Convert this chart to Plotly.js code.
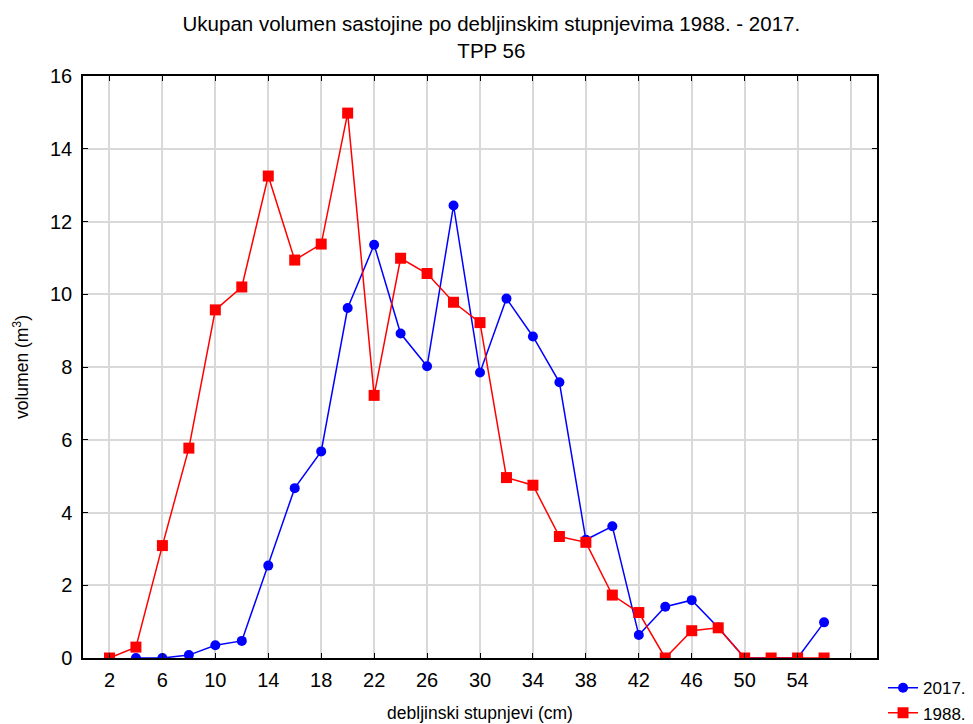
<!DOCTYPE html>
<html>
<head>
<meta charset="utf-8">
<script src="https://cdn.plot.ly/plotly-3.0.1.min.js"></script>
<style>html,body{margin:0;padding:0;background:#fff;}#chart{width:973px;height:724px;}</style>
</head>
<body>
<div id="chart"></div>
<script>
const x1988 = [2,4,6,8,10,12,14,16,18,20,22,24,26,28,30,32,34,36,38,40,42,44,46,48,50,52,54,56];
const v1988 = [0,0.3,3.09,5.77,9.57,10.2,13.25,10.94,11.38,14.98,7.22,10.99,10.57,9.78,9.22,4.96,4.75,3.34,3.18,1.73,1.25,0,0.75,0.83,0,0,0,0];
const x2017 = [4,6,8,10,12,14,16,18,20,22,24,26,28,30,32,34,36,38,40,42,44,46,48,50,52,54,56];
const v2017 = [0,0,0.08,0.35,0.47,2.54,4.67,5.68,9.62,11.36,8.92,8.02,12.44,7.85,9.88,8.84,7.58,3.25,3.62,0.63,1.41,1.59,0.84,0,0,0,0.98];
const xTicks = [2,6,10,14,18,22,26,30,34,38,42,46,50,54,58];
const xTickText = ['2','6','10','14','18','22','26','30','34','38','42','46','50','54',''];
const yTicks = [0,2,4,6,8,10,12,14,16];

const font = 'Liberation Sans, Arial, sans-serif';
const traces = [
  {x: x2017, y: v2017, name: '2017.', type: 'scatter', mode: 'lines+markers',
   line: {color: '#0000ff', width: 1.5}, marker: {symbol: 'circle', size: 10, color: '#0000ff'}},
  {x: x1988, y: v1988, name: '1988.', type: 'scatter', mode: 'lines+markers',
   line: {color: '#ff0000', width: 1.5}, marker: {symbol: 'square', size: 11, color: '#ff0000'}}
];
const layout = {
  width: 973, height: 724,
  margin: {l: 83, r: 96, t: 76, b: 66, autoexpand: false},
  paper_bgcolor: '#fff', plot_bgcolor: '#fff',
  font: {family: font, color: '#000'},
  title: {text: 'Ukupan volumen sastojine po debljinskim stupnjevima 1988. - 2017.<br>TPP 56',
          x: 0.505, xref: 'container', y: 0.957, yref: 'container', yanchor: 'top',
          font: {size: 20.5, family: font, color: '#000'}},
  xaxis: {range: [0, 60], tickvals: xTicks, ticktext: xTickText,
          showgrid: true, gridcolor: '#d9d9d9', gridwidth: 1.5,
          showline: true, linecolor: '#000', linewidth: 1.5, mirror: 'ticks',
          ticks: 'inside', ticklen: 5, tickcolor: '#000', zeroline: false,
          tickfont: {size: 20, family: font}, ticklabelstandoff: 3,
          title: {text: 'debljinski stupnjevi (cm)', font: {size: 17.5, family: font}, standoff: 17}},
  yaxis: {range: [0, 16], tickvals: yTicks,
          showgrid: true, gridcolor: '#d9d9d9', gridwidth: 1.5,
          showline: true, linecolor: '#000', linewidth: 1.5, mirror: 'ticks',
          ticks: 'inside', ticklen: 5, tickcolor: '#000', zeroline: false,
          tickfont: {size: 20, family: font}, ticklabelstandoff: 5,
          title: {text: 'volumen (m<sup>3</sup>)', font: {size: 17.5, family: font}, standoff: 17}},
  legend: {x: 1.0076, xanchor: 'left', y: -0.021, yanchor: 'top',
           font: {size: 17, family: font}, bgcolor: 'rgba(0,0,0,0)', tracegroupgap: 0,
           itemwidth: 30},
  showlegend: true
};
Plotly.newPlot('chart', traces, layout, {displayModeBar: false, responsive: false});
</script>
</body>
</html>
